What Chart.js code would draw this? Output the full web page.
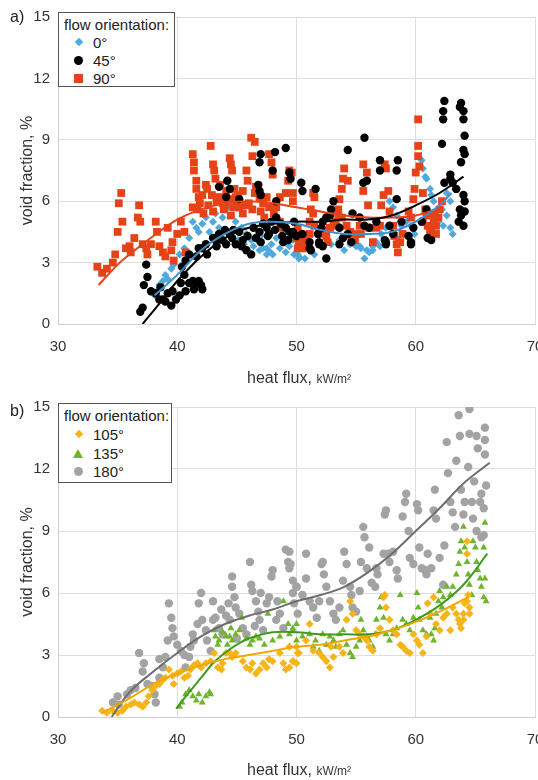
<!DOCTYPE html>
<html>
<head>
<meta charset="utf-8">
<script src="https://cdn.jsdelivr.net/npm/chart.js@4.4.1/dist/chart.umd.min.js"></script>
<style>
  html, body { margin: 0; padding: 0; background: #fff; overflow: hidden; }
  body { font-family: "Liberation Sans", Arial, sans-serif; color: #333; }
  #page { position: relative; width: 538px; height: 780px; overflow: hidden; }
  .panel { position: absolute; left: 0; width: 560px; height: 390px; }
  .tag { position: absolute; left: 10px; font-size: 16px; color: #222; }
  .xtitle { position: absolute; left: 247px; font-size: 16px; color: #333; white-space: nowrap; }
  .xtitle small { font-size: 12px; }
  .legend { position: absolute; left: 58px; border: 1px solid #555; background: #fff; box-sizing: border-box; font-size: 15px; color: #222; }
  .legend .ttl { position: absolute; left: 5px; top: 3px; line-height: 17px; white-space: nowrap; }
  .legend .row { position: absolute; left: 0; height: 17px; line-height: 17px; width: 100%; }
  .legend .row span { position: absolute; left: 34px; }
  .mk { position: absolute; left: 15px; top: 4px; width: 9px; height: 9px; }
  .dia { width: 6px; height: 6px; left: 17px; top: 5px; transform: rotate(45deg); }
  .cir { border-radius: 50%; }
  .tri { width: 0; height: 0; left: 14px; top: 4px; border-left: 5px solid transparent; border-right: 5px solid transparent; border-bottom: 9px solid #6cb52d; }
</style>
</head>
<body>
<div id="page">
  <div class="panel" style="top:0"><canvas id="chartA" width="560" height="390"></canvas></div>
  <div class="panel" style="top:390px"><canvas id="chartB" width="560" height="390"></canvas></div>

  <div class="tag" style="top:8px">a)</div>
  <div class="tag" style="top:402px">b)</div>
  <div class="xtitle" style="top:369px">heat flux, <small>kW/m²</small></div>
  <div class="xtitle" style="top:761px">heat flux, <small>kW/m²</small></div>

  <div class="legend" style="top:12px;width:117px;height:75px">
    <div class="ttl">flow orientation:</div>
    <div class="row" style="top:21px"><i class="mk dia" style="background:#4fa9dc"></i><span>0°</span></div>
    <div class="row" style="top:39px"><i class="mk cir" style="background:#000"></i><span>45°</span></div>
    <div class="row" style="top:57px"><i class="mk" style="background:#e64218"></i><span>90°</span></div>
  </div>
  <div class="legend" style="top:403px;width:114px;height:80px">
    <div class="ttl">flow orientation:</div>
    <div class="row" style="top:22px"><i class="mk dia" style="background:#f7b418"></i><span>105°</span></div>
    <div class="row" style="top:41px"><i class="mk tri"></i><span>135°</span></div>
    <div class="row" style="top:59px"><i class="mk cir" style="background:#a3a3a3"></i><span>180°</span></div>
  </div>
</div>

<script>
// axes
var X_TICKS = [30, 40, 50, 60, 70];
var Y_TICKS = [0, 3, 6, 9, 12, 15];

// a) 0 deg
var deg0 = [[38.1,1.4],[38.3,1.6],[38.5,1.9],[38.8,2.1],[39.0,2.4],[39.2,2.2],[39.5,2.7],[39.7,2.9],[40.2,3.4],[40.6,3.7],[41.0,4.2],[41.3,5.0],[41.6,4.7],[41.8,4.5],[42.1,4.9],[42.4,5.2],[42.7,4.5],[43.0,5.0],[43.2,5.4],[43.5,4.7],[43.8,5.2],[44.1,5.6],[44.4,5.8],[44.6,6.0],[44.9,5.0],[45.4,4.7],[45.8,4.4],[46.2,4.1],[46.6,4.2],[46.9,3.6],[47.2,3.7],[47.5,3.4],[47.9,3.9],[48.3,4.2],[48.6,3.7],[49.1,3.5],[49.7,4.1],[50.1,3.4],
  [49.8,3.4],[50.2,3.3],[50.7,3.2],[51.1,3.6],[51.9,4.0],[52.5,4.4],[53.3,4.8],[53.6,4.1],[54.5,3.9],[55.0,3.8],[55.4,3.7],[55.7,3.2],[56.1,3.5],[56.4,3.6],[56.7,4.0],[57.1,4.4],[57.5,4.7],[57.8,6.0],[58.1,5.7],[58.4,5.3],[58.8,4.8],[59.2,5.0],[59.6,4.8],[59.9,4.4],[60.5,8.0],[60.6,7.6],[60.8,7.2],[60.9,7.1],[61.2,6.6],[61.3,6.3],[61.5,6.0],[61.7,5.3],[61.9,5.0],[62.3,4.8],[62.6,5.3],[62.9,4.7],[63.1,4.4],[62.6,6.4],[62.9,6.0],[63.3,6.6],[62.2,5.6],
  [46.9,4.0],[47.5,3.7],[48.0,3.4],[50.2,3.2],[55.3,3.8],[55.9,3.6],[56.4,3.8],[58.4,4.2],
  [45.1,4.1],[45.6,3.9],[46.4,3.8],[47.0,4.3],[47.8,3.5],[48.8,4.0],[49.4,3.8],[51.5,3.4],[52.9,3.9],[54.0,3.6],[57.0,3.8],[58.0,4.5]];

// a) 45 deg
var deg45 = [[36.9,0.6],[37.1,0.8],[37.4,2.9],[37.5,2.3],[37.2,1.9],[37.8,1.6],[38.2,1.5],[38.5,1.2],[38.6,1.8],[38.8,1.2],[39.0,1.1],[39.2,1.5],[39.5,0.9],[39.6,1.6],[39.9,1.2],[40.2,1.4],[40.3,2.0],[40.6,2.4],[40.7,1.6],[41.0,2.0],[41.3,2.1],[41.4,1.7],[41.6,2.0],[41.8,2.1],[42.0,1.9],[42.1,1.7],
  [40.4,2.8],[40.7,3.1],[41.0,3.4],[41.6,3.3],[41.8,3.7],[42.1,3.7],[42.4,3.9],[42.5,3.4],[43.0,4.2],[43.2,4.1],[43.5,4.4],[43.8,4.1],[44.1,3.9],[44.4,4.4],[44.6,4.2],[44.9,3.9],[45.2,4.5],[45.5,4.1],[45.8,3.6],[46.2,3.4],[46.6,4.2],[46.9,4.5],[47.2,4.9],[47.5,4.7],[47.9,5.0],[48.3,5.2],[48.7,4.9],[49.1,4.7],[49.7,4.5],
  [43.5,6.7],[44.2,7.0],[44.4,6.6],[45.2,6.1],[46.9,7.9],[47.0,8.3],[48.0,7.5],[48.2,8.4],[49.1,8.6],[49.4,7.4],[49.5,7.1],[46.9,6.5],[48.3,6.0],[47.0,6.3],[44.1,6.2],[46.8,6.8],
  [50.4,6.9],[50.5,6.5],[51.6,6.6],[53.1,6.0],[54.3,8.5],[55.7,9.1],[55.6,6.9],[55.9,7.0],[57.0,7.5],[57.0,8.0],[58.5,8.0],[58.4,7.5],[52.9,5.6],[52.8,5.3],[52.5,5.2],[52.2,5.0],[52.1,4.7],[51.8,4.4],[51.9,4.0],[52.2,3.8],[52.5,3.2],[51.1,4.0],[51.2,3.6],[50.5,4.4],[49.8,5.0],[49.4,4.5],[53.6,4.7],[53.9,4.2],[54.3,4.4],[54.6,4.0],[54.7,5.4],[55.3,5.2],[55.7,4.8],[56.1,4.7],[56.7,5.0],[57.4,4.1],[57.5,3.9],[57.8,4.8],[58.1,4.4],[58.4,6.1],[58.8,5.0],[59.4,4.3],[59.6,3.9],[59.8,4.7],[60.5,5.0],[60.9,5.6],[61.0,4.2],[61.3,4.1],
  [62.2,8.8],[62.3,10.4],[62.4,10.9],[62.3,10.0],[62.4,6.9],[62.9,7.3],[63.1,6.9],[63.4,6.6],[63.7,5.6],[63.6,5.0],[63.8,5.3],[64.0,4.8],[64.1,5.5],[63.8,10.8],[64.0,10.4],[64.0,10.0],[64.1,9.2],[64.0,8.5],[64.1,8.3],[63.8,7.9],[64.0,6.3],[64.1,6.0],[63.7,10.6],[62.9,7.1],
  [47.7,4.4],[48.9,4.0],[49.7,4.4],[51.1,3.7],[51.9,3.9],[53.6,3.9],[57.5,4.0],[59.6,4.0],
  [43.3,3.8],[44.0,4.6],[44.7,4.6],[45.4,3.8],[45.9,4.3],[46.4,4.7],[47.0,4.0],[47.6,4.3],[48.2,4.6],[48.8,4.3],[49.3,4.1],[50.0,4.3]];

// a) 90 deg
var deg90 = [[33.3,2.8],[33.7,2.5],[34.1,2.7],[34.6,3.0],[34.8,3.4],[35.3,6.4],[35.1,5.9],[35.4,5.0],[35.0,4.5],[35.7,3.7],[36.0,3.8],[36.1,3.5],[36.4,4.2],[36.8,5.8],[36.7,5.2],[36.9,5.0],[37.1,3.9],[37.4,3.7],[37.5,3.4],[37.8,3.9],[38.2,5.0],[38.3,4.5],[38.5,3.8],[38.8,3.5],[39.0,3.3],[39.2,4.7],[39.5,3.6],[39.6,4.0],[39.7,3.1],[40.0,4.4],[40.3,5.0],[40.6,4.5],[40.7,3.5],
  [41.3,8.3],[41.4,7.9],[41.4,7.5],[41.6,7.0],[41.6,6.6],[41.3,5.7],[41.7,5.6],[41.8,6.2],[42.1,6.3],[42.4,6.8],[42.5,6.6],[42.8,8.7],[43.0,7.8],[43.1,7.5],[43.2,7.1],[43.5,6.2],[43.8,5.9],[44.1,6.5],[44.4,8.1],[44.5,7.8],[44.6,7.5],[44.8,6.6],[44.9,6.2],[45.2,5.7],[45.5,6.5],[45.8,7.5],[45.9,7.0],[46.2,9.1],[46.3,8.2],[46.5,8.9],[46.6,6.7],[46.9,6.2],[47.2,5.9],[47.5,6.2],[47.7,8.3],[47.9,7.9],[48.0,7.3],[48.3,5.7],[48.6,5.0],[48.7,4.7],[49.1,6.4],[49.3,7.0],[49.4,7.5],[49.7,6.0],[50.0,4.5],[50.1,3.7],
  [49.6,7.4],[49.7,6.4],[51.4,6.4],[51.5,6.2],[51.2,5.6],[51.4,5.4],[51.1,5.0],[50.1,4.7],[50.0,4.2],[50.2,3.9],[50.5,3.7],[50.8,4.2],[51.5,4.8],[51.9,4.5],[52.2,4.4],[52.5,4.3],[52.6,4.0],[52.8,4.7],[53.1,4.8],[53.3,5.0],[53.5,5.6],[53.6,6.1],[53.8,6.6],[53.9,7.1],[54.0,7.6],[54.3,7.0],[53.8,5.2],[54.2,4.8],[54.5,4.5],[54.6,4.2],[54.9,4.1],[55.0,4.4],[55.3,4.8],[55.4,4.4],[55.6,6.5],[55.6,7.8],[55.9,7.4],[56.0,5.8],[56.1,4.7],[56.4,4.0],[56.7,4.7],[57.0,4.8],[57.1,5.8],[57.3,6.3],[57.4,7.8],[57.5,7.6],[57.7,6.5],[57.8,5.5],[58.1,4.8],[58.2,4.3],[58.4,3.9],[58.5,3.5],[58.7,4.0],[58.9,4.4],[59.4,5.5],[59.6,5.2],[59.8,6.1],[59.9,6.6],[60.0,7.4],[60.2,8.2],[60.2,8.7],[60.2,10.0],[60.3,7.7],[60.6,6.4],[60.6,5.0],[60.8,5.6],[60.9,5.3],[61.0,4.8],[61.2,4.5],[61.3,4.7],[61.5,5.0],[61.6,5.3],[61.7,4.8],[61.9,5.2],[62.0,5.6],[62.2,6.0],[61.7,4.4],[61.5,5.4],
  [47.2,6.1],[47.7,5.7],[48.6,6.2],[49.8,4.5],[50.4,4.1],[50.5,3.7],[50.8,4.0],[51.1,4.4],[52.1,4.5],[53.5,5.3],
  [44.0,5.8],[45.0,6.0],[46.0,5.9],[46.5,6.4],[47.0,5.5],[45.5,5.4],[43.0,5.5],[44.5,5.3],[42.2,5.4],[43.6,6.8],
  [41.9,5.9],[42.6,5.8],[43.3,6.0],[43.9,5.6],[44.3,6.1],[45.1,6.3],[45.7,5.8],[46.3,5.6],[47.3,5.2],[48.1,5.4],[42.9,6.3],[44.7,5.7]];

// a) trend lines
var fit0 = [[38.1,1.4],[40,2.4],[42,3.6],[44,4.4],[46,4.9],[48,5.0],[50,4.9],[52,4.6],[54,4.4],[56,4.4],[58,4.5],[60,5.0],[62,5.8],[63,6.4]];
var fit45 = [[37.1,0],[38.5,1.0],[40,2.1],[42,3.3],[44,4.2],[46,4.7],[48,4.9],[50,5.0],[52,5.0],[54,5.1],[56,5.1],[58,5.3],[60,5.8],[62,6.4],[64,7.2]];
var fit90 = [[33.4,1.9],[35,2.9],[36,3.4],[38,4.3],[40,5.1],[42,5.6],[44,5.9],[46,6.0],[48,5.9],[50,5.7],[52,5.5],[54,5.3],[56,5.2],[58,5.2],[60,5.3],[62.2,5.7]];

// b) 105 deg
var deg105 = [[33.7,0.3],[34.1,0.2],[34.6,0.3],[35.0,0.2],[35.4,0.3],[35.7,0.5],[36.1,0.6],[36.4,0.7],[36.8,0.6],[37.1,0.5],[37.4,0.7],[37.6,1.0],[37.9,1.3],[38.2,1.5],[38.5,1.6],[38.8,1.8],[39.0,1.9],[39.3,2.3],[39.6,2.0],[39.7,1.6],[40.0,2.1],[40.3,2.2],[40.6,1.9],[40.9,2.0],[41.1,2.3],[41.4,2.5],[41.7,2.6],[42.0,2.4],[42.4,2.6],[42.8,2.7],[43.1,3.1],[43.4,2.4],[43.7,2.3],[43.8,2.6],[44.1,3.1],[44.4,3.1],[44.6,2.9],[44.9,3.1],[45.5,2.7],[45.8,2.4],[46.1,2.3],[46.3,2.6],[46.6,2.1],[46.9,2.3],[47.2,2.6],[47.5,2.4],[47.7,2.8],[48.0,2.7],[48.6,3.1],[48.9,2.6],[49.1,2.3],[49.4,2.4],[49.7,2.7],[50.0,3.4],[50.1,3.1],
  [49.4,3.4],[49.7,2.7],[50.0,2.6],[50.2,3.1],[50.8,3.7],[51.1,4.5],[51.4,3.2],[51.9,3.1],[52.2,2.9],[52.5,2.7],[52.8,2.4],[52.9,3.4],[53.1,2.9],[53.6,3.4],[53.9,3.1],[54.2,4.7],[54.5,5.6],[54.7,5.0],[55.0,4.2],[55.3,4.0],[55.6,3.9],[55.9,3.7],[56.1,3.4],[56.4,3.2],[56.7,4.0],[57.0,4.3],[57.3,5.8],[57.4,5.9],[57.5,5.3],[57.8,4.7],[58.1,4.2],[58.4,4.0],[58.7,3.5],[58.9,3.4],[59.2,3.2],[59.5,3.1],[59.8,4.0],[60.1,3.7],[60.3,3.5],[60.6,3.1],[60.9,3.9],[61.0,5.5],[61.2,5.0],[61.5,5.8],[61.7,4.5],[62.0,4.2],[62.3,4.8],[62.6,5.0],[62.9,4.2],[63.1,5.3],[63.4,5.0],[63.6,4.7],[63.7,4.5],[63.8,4.3],[64.0,5.0],[64.1,5.5],[64.3,5.6],[64.4,5.9],[64.5,5.3],[64.5,5.0],[64.3,7.9],[64.3,8.5],[64.0,4.7]];

// b) 135 deg
var deg135 = [[40.2,0.5],[40.4,0.7],[40.7,1.1],[41.0,1.3],[41.3,1.0],[41.6,0.8],[41.8,1.1],[42.1,0.7],[42.4,1.0],[42.7,1.2],[42.8,1.1],[43.1,4.2],[43.2,3.9],[43.4,3.5],[43.5,3.7],[43.8,4.1],[44.1,3.9],[44.2,3.5],[44.4,3.9],[44.5,4.3],[44.6,3.7],[44.9,4.0],[45.2,4.2],[45.4,4.8],[45.8,3.8],[46.1,3.5],[46.3,3.7],[46.6,3.9],[46.9,3.8],[47.3,3.5],[47.6,5.0],[48.0,3.7],[48.6,3.9],[48.9,5.6],[49.3,4.5],[49.7,4.2],[50.0,4.5],
  [49.4,4.0],[49.7,4.3],[50.0,3.7],[50.5,3.9],[51.1,4.0],[51.4,3.4],[51.6,3.7],[51.9,3.2],[52.2,4.0],[52.5,3.5],[52.8,3.9],[53.1,3.7],[53.3,3.4],[53.6,4.0],[53.9,4.2],[54.2,3.5],[54.5,3.1],[54.7,2.9],[55.0,3.4],[55.3,3.7],[55.4,4.7],[55.6,4.2],[55.9,3.9],[56.1,3.7],[56.4,3.4],[56.6,4.0],[56.7,4.7],[57.0,5.3],[57.1,5.8],[57.3,4.8],[57.5,4.0],[57.8,3.7],[58.1,4.0],[58.4,4.3],[58.7,5.9],[58.9,4.7],[59.2,4.5],[59.5,4.2],[59.8,4.8],[60.1,6.0],[60.2,5.3],[60.3,4.7],[60.6,4.2],[60.9,4.0],[61.2,4.8],[61.3,4.0],[61.5,3.7],[61.6,4.3],[61.7,5.0],[61.9,5.6],[62.0,6.1],[62.2,5.3],[62.3,5.8],[62.6,6.3],[62.9,5.9],[63.1,6.3],[63.4,6.9],[63.6,7.4],[63.7,8.0],[63.8,8.5],[64.0,9.2],[64.1,8.2],[64.3,7.5],[64.4,6.9],[64.5,6.4],[64.7,5.9],[64.8,8.5],[65.0,8.2],[65.1,7.5],[65.2,7.1],[65.4,6.7],[65.5,6.3],[65.7,5.8],[65.8,6.7],[65.8,9.4],[65.7,8.2],[65.9,5.6]];

// b) 180 deg
var deg180 = [[34.6,0.7],[35.0,1.0],[35.1,0.6],[35.8,1.1],[36.1,1.3],[36.5,1.4],[36.8,3.1],[37.2,2.6],[37.1,2.2],[37.5,1.6],[37.9,1.5],[38.1,1.1],[38.2,0.7],[38.5,1.9],[38.5,2.8],[38.8,2.4],[39.0,2.9],[39.3,5.5],[39.5,4.8],[39.6,4.3],[39.2,3.7],[39.7,3.9],[40.0,3.5],[40.3,3.2],[40.6,3.0],[40.7,2.4],[41.0,2.9],[41.1,3.4],[41.3,4.0],[41.4,3.7],[41.7,4.5],[41.8,5.5],[42.0,6.0],[42.1,4.7],[42.4,4.2],[42.5,3.7],[42.8,3.2],[43.0,4.7],[43.2,4.8],[43.5,4.3],[43.8,4.0],[44.1,4.9],[44.4,4.7],[44.6,6.8],[44.6,6.3],[44.8,5.8],[44.9,5.3],[45.2,5.0],[45.5,4.3],[45.8,4.0],[46.1,7.5],[46.2,6.4],[46.3,6.1],[46.6,5.6],[46.8,5.1],[46.9,4.7],[47.2,4.2],[47.5,5.5],[47.7,5.8],[47.9,6.8],[48.0,7.1],[48.3,4.7],[48.6,5.0],[48.9,4.3],[49.1,8.1],[49.3,7.5],[49.4,7.2],[49.7,6.0],[49.8,5.5],[50.0,6.3],[50.1,5.0],
  [43.0,5.6],[43.7,5.2],[45.0,3.8],[46.5,4.4],[47.0,6.0],[48.4,5.6],[44.3,5.5],
  [49.4,8.0],[49.5,7.4],[49.7,6.6],[50.0,6.3],[50.5,5.9],[50.8,7.9],[50.8,6.7],[51.1,5.6],[51.4,5.3],[51.7,4.8],[51.9,5.6],[52.1,7.4],[52.2,7.5],[52.3,6.9],[52.5,6.3],[52.8,5.6],[53.1,5.0],[53.3,4.7],[53.6,5.3],[53.9,6.6],[54.0,8.0],[54.2,7.4],[54.5,6.3],[54.6,5.9],[54.7,5.3],[55.0,5.1],[55.3,6.1],[55.4,7.5],[55.6,9.2],[55.7,8.7],[55.9,7.2],[56.1,8.2],[56.3,6.5],[56.6,6.3],[56.7,7.2],[56.8,6.9],[57.3,7.9],[57.4,9.8],[57.5,10.0],[57.7,7.9],[57.8,7.5],[58.1,8.0],[58.4,7.1],[58.5,6.7],[58.9,9.7],[59.1,10.4],[59.2,10.8],[59.4,9.0],[59.5,7.7],[59.8,7.4],[60.1,10.3],[60.2,10.0],[60.3,8.2],[60.5,7.2],[60.8,7.1],[60.9,6.9],[61.0,7.9],[61.3,7.2],[61.5,10.0],[61.6,11.0],[61.7,9.6],[62.0,7.7],[62.3,6.4],[62.4,8.3],[62.6,13.3],[62.7,11.8],[62.9,10.4],[63.1,9.9],[63.3,9.2],[63.4,12.4],[63.6,14.6],[63.7,13.6],[63.8,11.0],[64.0,9.8],[64.1,10.4],[64.4,12.1],[64.5,14.9],[64.5,13.7],[64.7,10.4],[64.8,9.6],[64.9,11.4],[65.1,13.6],[65.2,13.0],[65.4,10.4],[65.5,10.8],[65.7,10.1],[65.8,14.0],[65.8,13.4],[65.8,12.7],[65.9,11.2],[65.7,8.8],[65.5,8.7],[65.1,9.0]];

// b) trend lines
var fit105 = [[33.7,0.2],[36,0.9],[38,1.6],[40,2.1],[42,2.5],[44,2.8],[46,3.0],[48,3.2],[50,3.4],[52,3.5],[54,3.7],[56,3.9],[58,4.2],[60,4.6],[62,5.1],[64.4,5.8]];
var fit135 = [[39.9,0.4],[41,1.2],[42,1.9],[43,2.6],[44,3.1],[45,3.5],[46,3.8],[48,4.1],[50,4.1],[52,4.0],[54,4.0],[56,4.0],[58,4.2],[60,4.7],[62,5.4],[64,6.4],[66,7.9]];
var fit180 = [[34.5,0],[36,1.2],[38,2.2],[40,3.1],[42,3.9],[44,4.5],[46,4.9],[48,5.2],[50,5.6],[52,5.9],[54,6.3],[56,7.0],[58,7.9],[60,9.0],[62,10.1],[64,11.3],[66.2,12.3]];

function pts(arr) {
  return arr.map(function (p) { return {x: p[0], y: p[1]}; });
}

function dots(data, style, color, r, order) {
  return {data: pts(data), pointStyle: style, backgroundColor: color, borderWidth: 0,
          pointRadius: r, pointHoverRadius: r, showLine: false, order: order};
}

function trend(data, color) {
  return {data: pts(data), showLine: true, borderColor: color, borderWidth: 2, pointRadius: 0,
          tension: 0.4, fill: false, order: 0};
}

function makeChart(id, top, xHeight, datasets) {
  return new Chart(document.getElementById(id), {
    type: 'scatter',
    data: {datasets: datasets},
    options: {
      responsive: false,
      animation: false,
      layout: {padding: {left: 0, top: top, right: 25, bottom: 0}},
      plugins: {legend: {display: false}, tooltip: {enabled: false}},
      scales: {
        x: {
          min: X_TICKS[0], max: X_TICKS[X_TICKS.length - 1],
          ticks: {stepSize: 10, color: '#333', font: {size: 15, family: 'Liberation Sans'}, padding: 14},
          grid: {color: '#dedede', drawTicks: false},
          border: {color: '#cfcfcf'},
          afterFit: function (s) { s.height = xHeight; }
        },
        y: {
          min: Y_TICKS[0], max: Y_TICKS[Y_TICKS.length - 1],
          ticks: {stepSize: 3, color: '#333', font: {size: 15, family: 'Liberation Sans'}, padding: 8},
          grid: {color: '#dedede', drawTicks: false},
          border: {color: '#cfcfcf'},
          title: {display: true, text: 'void fraction, %', color: '#333',
                  font: {size: 16, family: 'Liberation Sans'}, padding: {top: 18, bottom: 0}},
          afterFit: function (s) { s.width = 58; }
        }
      }
    }
  });
}

makeChart('chartA', 12, 66, [
  trend(fit0, '#3d8fc9'),
  trend(fit45, '#000000'),
  trend(fit90, '#e64218'),
  dots(deg45, 'circle', '#000000', 4.2, 1),
  dots(deg90, 'rect', '#e64218', 5.5, 2),
  dots(deg0, 'rectRot', '#4fa9dc', 4, 3)
]);

makeChart('chartB', 15, 63, [
  trend(fit105, '#f0a800'),
  trend(fit135, '#3f9b1f'),
  trend(fit180, '#6e6e6e'),
  dots(deg105, 'rectRot', '#f7b418', 4, 1),
  dots(deg135, 'triangle', '#6cb52d', 4, 2),
  dots(deg180, 'circle', '#a3a3a3', 4.2, 3)
]);
</script>
</body>
</html>
